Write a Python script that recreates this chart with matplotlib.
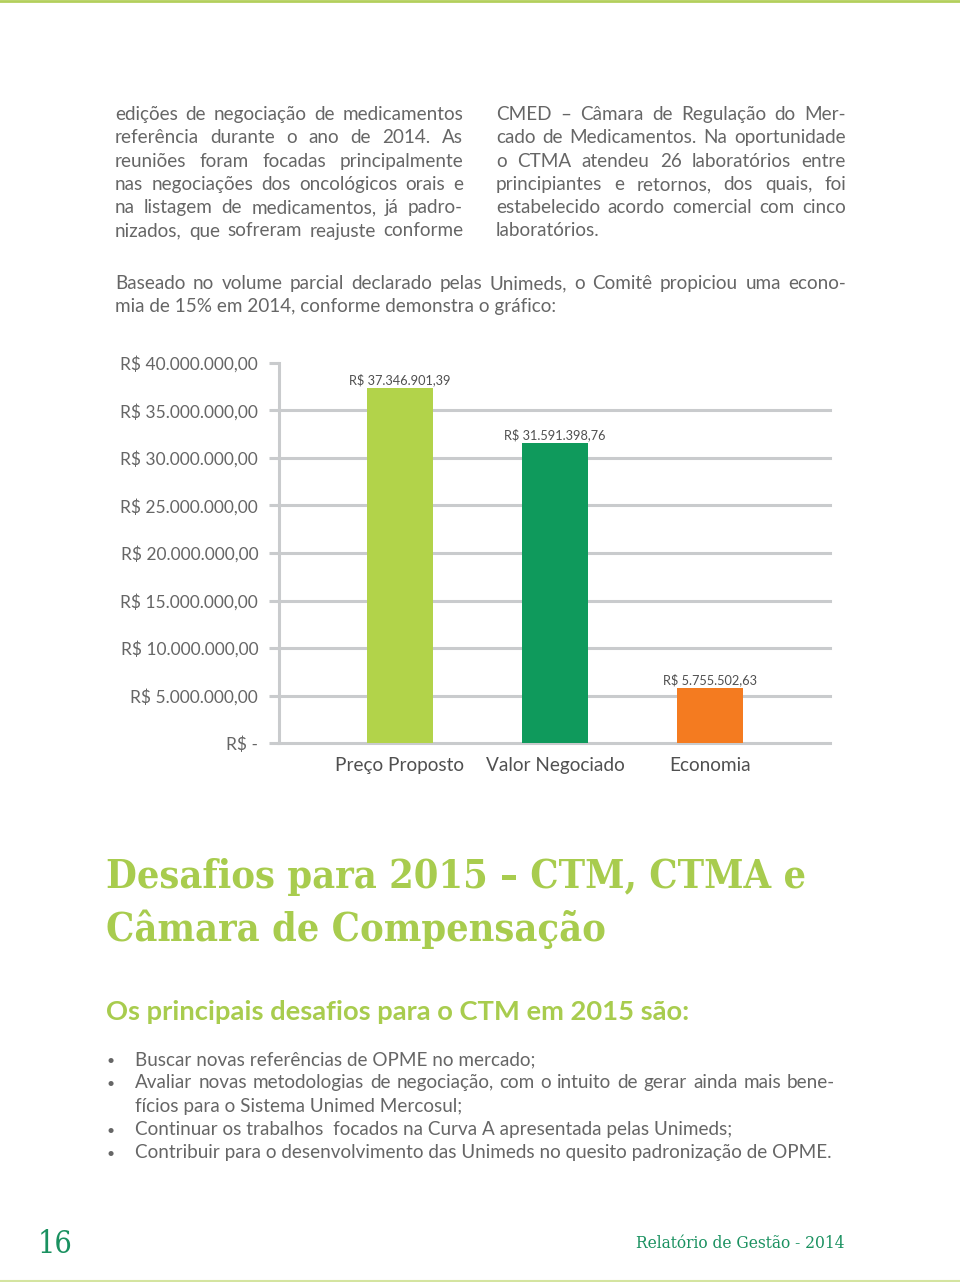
import matplotlib
matplotlib.use("Agg")
import matplotlib.pyplot as plt

# page / chart data
categories = ["Preço Proposto", "Valor Negociado", "Economia"]
values = [37346901.39, 31591398.76, 5755502.63]
bar_colors = ["#b2d34a", "#0f9a5c", "#f47b20"]
y_ticks = [0, 5e6, 10e6, 15e6, 20e6, 25e6, 30e6, 35e6, 40e6]

left_col = [
    "edições de negociação de medicamentos",
    "referência durante o ano de 2014. As",
    "reuniões foram focadas principalmente",
    "nas negociações dos oncológicos orais e",
    "na listagem de medicamentos, já padro-",
    "nizados, que sofreram reajuste conforme",
]
right_col = [
    "CMED – Câmara de Regulação do Mer-",
    "cado de Medicamentos. Na oportunidade",
    "o CTMA atendeu 26 laboratórios entre",
    "principiantes e retornos, dos quais, foi",
    "estabelecido acordo comercial com cinco",
    "laboratórios.",
]
intro = [
    "Baseado no volume parcial declarado pelas Unimeds, o Comitê propiciou uma econo-",
    "mia de 15% em 2014, conforme demonstra o gráfico:",
]
heading = ["Desafios para 2015 – CTM, CTMA e", "Câmara de Compensação"]
subheading = "Os principais desafios para o CTM em 2015 são:"
bullets = [
    ["Buscar novas referências de OPME no mercado;"],
    ["Avaliar novas metodologias de negociação, com o intuito de gerar ainda mais bene-",
     "fícios para o Sistema Unimed Mercosul;"],
    ["Continuar os trabalhos  focados na Curva A apresentada pelas Unimeds;"],
    ["Contribuir para o desenvolvimento das Unimeds no quesito padronização de OPME."],
]
page_number = "16"
footer = "Relatório de Gestão - 2014"

W, H = 960, 1282
TEXT = "#666666"
GREEN = "#a8cc4e"
DARK_GREEN = "#1a9160"
GRID = "#c9cbcd"
SANS = ["Lato", "DejaVu Sans"]

fig = plt.figure(figsize=(W / 100, H / 100), dpi=100)
renderer = fig.canvas.get_renderer()


def px(x, y):
    return x / W, 1 - y / H


def put(x, y, s, **kw):
    fx, fy = px(x, y)
    kw.setdefault("va", "baseline")
    return fig.text(fx, fy, s, **kw)


def width_of(t):
    return t.get_window_extent(renderer).width


def justify(line, x0, x1, y, **kw):
    # spread the words of one line between x0 and x1
    words = line.split()
    texts = [put(x0, y, w, **kw) for w in words]
    widths = [width_of(t) for t in texts]
    gap = (x1 - x0 - sum(widths)) / max(len(words) - 1, 1)
    x = x0
    for t, w in zip(texts, widths):
        t.set_x(x / W)
        x += w + gap


def fit(x, y, s, target, **kw):
    # one line of text sized to a given pixel width
    t = put(x, y, s, fontsize=10, **kw)
    t.set_fontsize(10 * target / width_of(t))
    return t


body = dict(family=SANS, fontsize=13.6, color=TEXT)

# page borders
fig.add_artist(plt.Line2D([0, 1], [1 - 1 / H, 1 - 1 / H], color="#b3cf5c", lw=2))
fig.add_artist(plt.Line2D([0, 1], [1.5 / H, 1.5 / H], color="#d4e4a0", lw=1.5))

# two text columns
for i, line in enumerate(left_col):
    justify(line, 115, 463, 120 + i * 23.3, **body)
for i, line in enumerate(right_col):
    if i == len(right_col) - 1:
        put(496, 120 + i * 23.3, line, **body)
    else:
        justify(line, 496, 846, 120 + i * 23.3, **body)

justify(intro[0], 115, 846, 289, **body)
put(115, 312, intro[1], **body)

# bar chart
ax = fig.add_axes([279 / W, 1 - 743 / H, (830 - 279) / W, (743 - 363) / H])
x = range(len(categories))
ax.bar(x, values, width=0.43, color=bar_colors, zorder=3)
ax.set_xlim(-0.78, 2.775)
ax.set_ylim(0, 40e6)
for v in y_ticks[:-1]:
    ax.axhline(v, color=GRID, lw=2.2, zorder=1, clip_on=False)
for s in ["top", "right", "bottom"]:
    ax.spines[s].set_visible(False)
ax.spines["left"].set_color(GRID)
ax.spines["left"].set_linewidth(2.2)


def brl(v):
    s = f"{v:,.2f}".replace(",", "#").replace(".", ",").replace("#", ".")
    return "R$ " + s


ax.set_yticks(y_ticks)
ax.set_yticklabels([brl(v) if v else "R$ -" for v in y_ticks],
                   family=SANS, fontsize=12.5, color=TEXT)
ax.tick_params(axis="y", length=7, width=2.2, color=GRID, pad=8)
ax.set_xticks(list(x))
ax.set_xticklabels(categories, family=SANS, fontsize=13.7, color="#505050")
ax.tick_params(axis="x", length=0, pad=10)
for xi, v in zip(x, values):
    ax.annotate(brl(v), (xi, v), xytext=(0, 1.5), textcoords="offset points",
                ha="center", va="bottom", family=SANS, fontsize=9.2,
                color="#505050")

# headings
fit(106, 888, heading[0], 700, family="DejaVu Serif", weight="bold",
    color=GREEN, stretch="condensed")
t2 = put(106, 941, heading[1], family="DejaVu Serif", weight="bold",
         color=GREEN, stretch="condensed")
t2.set_fontsize(fig.texts[-2].get_fontsize())
fit(106, 1020, subheading, 586, family=SANS, weight="bold", color=GREEN)

# bullet list
y = 1065
for item in bullets:
    put(107, y, "•", family=SANS, fontsize=10, color=TEXT)
    for j, line in enumerate(item):
        if len(item) > 1 and j < len(item) - 1:
            justify(line, 135, 835, y, **body)
        else:
            put(135, y, line, **body)
        y += 23.3

# footer
put(38, 1253, page_number, family="DejaVu Serif", fontsize=22,
    color=DARK_GREEN, stretch="condensed")
fit(636, 1248, footer, 210, family="DejaVu Serif", color=DARK_GREEN,
    stretch="condensed")

fig.savefig("out.png", dpi=100, facecolor="white")
